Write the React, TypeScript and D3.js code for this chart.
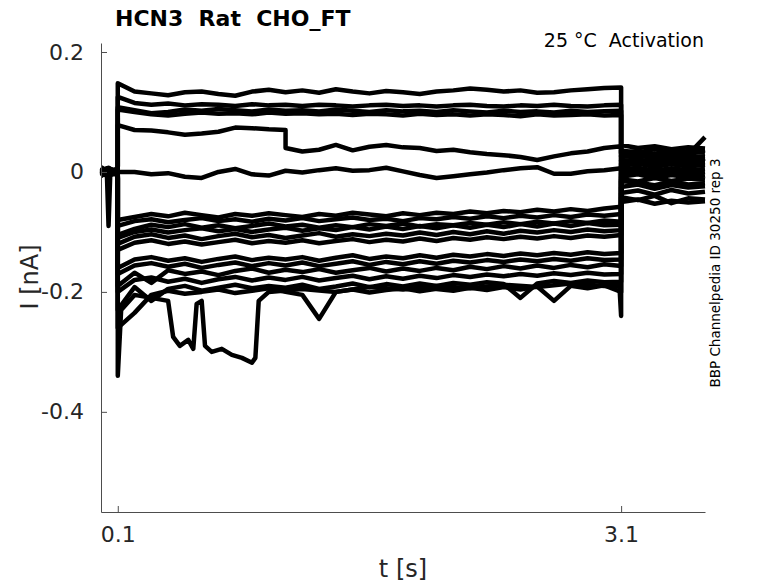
import React, { useRef, useEffect } from "react";
import * as d3 from "d3";

// time grids (s)
const PRE_T = [0, 0.035, 0.045, 0.055, 0.1];
const PULSE_T = [
  0.1, 0.2, 0.3, 0.4, 0.5, 0.6, 0.7, 0.8, 0.9, 1.0, 1.1, 1.2, 1.3, 1.4, 1.5, 1.6,
  1.7, 1.8, 1.9, 2.0, 2.1, 2.2, 2.3, 2.4, 2.5, 2.6, 2.7, 2.8, 2.9, 3.0, 3.1,
];
const POST_T = [3.1, 3.2, 3.3, 3.4, 3.5, 3.6];

const X_TICKS = [0.1, 3.1];
const Y_TICKS = [0.2, 0, -0.2, -0.4];

// current during the 3 s pulse (nA), one value per PULSE_T
const TOP = [0.148, 0.134, 0.131, 0.128, 0.133, 0.134, 0.13, 0.127, 0.134, 0.137, 0.133, 0.136, 0.132, 0.138, 0.134, 0.131, 0.135, 0.133, 0.13, 0.134, 0.136, 0.139, 0.137, 0.134, 0.136, 0.132, 0.133, 0.136, 0.138, 0.14, 0.141];
const UPPER_1 = [0.125, 0.115, 0.112, 0.114, 0.111, 0.113, 0.112, 0.11, 0.113, 0.111, 0.112, 0.11, 0.112, 0.111, 0.109, 0.111, 0.112, 0.11, 0.111, 0.109, 0.111, 0.112, 0.11, 0.109, 0.111, 0.11, 0.112, 0.11, 0.109, 0.111, 0.112];
const UPPER_2 = [0.108, 0.103, 0.098, 0.1, 0.104, 0.102, 0.105, 0.103, 0.101, 0.104, 0.102, 0.103, 0.101, 0.104, 0.102, 0.1, 0.103, 0.101, 0.102, 0.1, 0.103, 0.101, 0.099, 0.102, 0.1, 0.101, 0.099, 0.102, 0.1, 0.101, 0.102];
const UPPER_3 = [0.104, 0.1, 0.096, 0.094, 0.097, 0.099, 0.097, 0.098, 0.096, 0.099, 0.097, 0.098, 0.096, 0.097, 0.095, 0.097, 0.096, 0.094, 0.097, 0.095, 0.096, 0.094, 0.096, 0.095, 0.093, 0.096, 0.094, 0.095, 0.096, 0.094, 0.095];
const NEAR_ZERO = [0.0, 0.0, -0.004, -0.002, -0.008, -0.01, 0.0, 0.005, -0.004, -0.006, 0.002, -0.001, 0.003, 0.006, 0.002, 0.003, 0.007, 0.001, -0.005, -0.01, -0.007, -0.004, -0.001, 0.003, 0.006, 0.008, -0.003, -0.003, 0.001, 0.003, 0.006];
const K1 = [-0.08, -0.075, -0.07, -0.074, -0.068, -0.072, -0.076, -0.07, -0.073, -0.069, -0.072, -0.075, -0.07, -0.073, -0.068, -0.071, -0.074, -0.069, -0.072, -0.068, -0.07, -0.066, -0.069, -0.065, -0.067, -0.063, -0.066, -0.062, -0.065, -0.061, -0.058];
const K2 = [-0.09, -0.082, -0.079, -0.084, -0.08, -0.077, -0.082, -0.079, -0.083, -0.078, -0.081, -0.077, -0.082, -0.079, -0.076, -0.08, -0.078, -0.082, -0.077, -0.079, -0.075, -0.078, -0.074, -0.077, -0.073, -0.076, -0.072, -0.075, -0.071, -0.073, -0.07];
const K3 = [-0.105, -0.095, -0.088, -0.092, -0.087, -0.093, -0.089, -0.094, -0.09, -0.086, -0.091, -0.088, -0.093, -0.089, -0.092, -0.087, -0.09, -0.086, -0.091, -0.087, -0.089, -0.085, -0.088, -0.084, -0.087, -0.083, -0.086, -0.082, -0.085, -0.081, -0.083];
const K4 = [-0.12, -0.108, -0.104, -0.11, -0.106, -0.112, -0.107, -0.103, -0.109, -0.105, -0.11, -0.106, -0.102, -0.108, -0.104, -0.107, -0.103, -0.106, -0.101, -0.105, -0.1, -0.104, -0.099, -0.103, -0.098, -0.101, -0.097, -0.1, -0.096, -0.099, -0.097];
const K5 = [-0.13, -0.118, -0.114, -0.12, -0.116, -0.121, -0.117, -0.113, -0.119, -0.115, -0.118, -0.114, -0.119, -0.115, -0.112, -0.117, -0.113, -0.116, -0.111, -0.115, -0.11, -0.113, -0.109, -0.112, -0.108, -0.111, -0.107, -0.11, -0.106, -0.108, -0.105];
const K6 = [-0.16, -0.146, -0.142, -0.148, -0.144, -0.15, -0.145, -0.141, -0.147, -0.143, -0.146, -0.142, -0.148, -0.143, -0.139, -0.145, -0.141, -0.144, -0.139, -0.143, -0.138, -0.141, -0.137, -0.14, -0.136, -0.139, -0.135, -0.138, -0.134, -0.137, -0.135];
const K7 = [-0.17, -0.156, -0.152, -0.158, -0.153, -0.16, -0.155, -0.151, -0.157, -0.152, -0.156, -0.151, -0.157, -0.153, -0.149, -0.155, -0.15, -0.154, -0.149, -0.153, -0.148, -0.151, -0.147, -0.15, -0.146, -0.149, -0.145, -0.148, -0.144, -0.147, -0.146];
const K8 = [-0.19, -0.168, -0.185, -0.164, -0.17, -0.166, -0.172, -0.165, -0.161, -0.168, -0.163, -0.167, -0.162, -0.168, -0.164, -0.16, -0.166, -0.161, -0.165, -0.16, -0.164, -0.158, -0.162, -0.157, -0.161, -0.156, -0.16, -0.155, -0.159, -0.154, -0.157];
const K9 = [-0.2, -0.18, -0.176, -0.183, -0.178, -0.185, -0.179, -0.175, -0.181, -0.176, -0.18, -0.175, -0.181, -0.177, -0.173, -0.179, -0.174, -0.178, -0.173, -0.177, -0.172, -0.175, -0.171, -0.174, -0.17, -0.173, -0.169, -0.172, -0.168, -0.171, -0.17];
const K10 = [-0.23, -0.192, -0.215, -0.195, -0.19, -0.198, -0.193, -0.188, -0.194, -0.19, -0.193, -0.188, -0.195, -0.191, -0.186, -0.192, -0.187, -0.191, -0.186, -0.19, -0.185, -0.188, -0.184, -0.187, -0.21, -0.186, -0.182, -0.185, -0.181, -0.184, -0.183];
const K11 = [-0.26, -0.235, -0.205, -0.198, -0.203, -0.2, -0.196, -0.202, -0.198, -0.194, -0.2, -0.205, -0.245, -0.2, -0.196, -0.201, -0.197, -0.194, -0.199, -0.195, -0.198, -0.193, -0.197, -0.192, -0.196, -0.191, -0.215, -0.19, -0.194, -0.189, -0.2];
const K12 = [-0.11, -0.1, -0.096, -0.101, -0.097, -0.094, -0.099, -0.095, -0.1, -0.096, -0.093, -0.098, -0.094, -0.097, -0.092, -0.096, -0.091, -0.095, -0.09, -0.094, -0.089, -0.093, -0.088, -0.092, -0.087, -0.091, -0.086, -0.09, -0.085, -0.089, -0.088];

// traces with sharp events, as [t, I] pairs
const STEP_TRACE: [number, number][] = [
  [0.1, 0.078], [0.2, 0.07], [0.3, 0.069], [0.4, 0.066], [0.5, 0.062], [0.6, 0.064],
  [0.7, 0.067], [0.8, 0.074], [0.9, 0.073], [1.0, 0.071], [1.1, 0.07], [1.1, 0.04],
  [1.2, 0.034], [1.3, 0.037], [1.4, 0.045], [1.5, 0.036], [1.6, 0.042], [1.7, 0.045],
  [1.8, 0.041], [1.9, 0.04], [2.0, 0.035], [2.1, 0.037], [2.2, 0.033], [2.3, 0.03],
  [2.4, 0.028], [2.5, 0.025], [2.6, 0.02], [2.7, 0.026], [2.8, 0.031], [2.9, 0.034],
  [3.0, 0.04], [3.1, 0.043],
];
const DIP_TRACE: [number, number][] = [
  [0.1, -0.34], [0.12, -0.23], [0.2, -0.205], [0.3, -0.21], [0.4, -0.215], [0.43, -0.275],
  [0.47, -0.29], [0.52, -0.28], [0.55, -0.295], [0.57, -0.22], [0.6, -0.215], [0.62, -0.29],
  [0.66, -0.3], [0.72, -0.295], [0.78, -0.305], [0.84, -0.31], [0.9, -0.318], [0.92, -0.31],
  [0.94, -0.215], [1.0, -0.2], [1.2, -0.195], [1.4, -0.2], [1.6, -0.192], [1.8, -0.196],
  [2.0, -0.19], [2.2, -0.194], [2.4, -0.188], [2.6, -0.192], [2.8, -0.186], [3.0, -0.19],
  [3.09, -0.19], [3.1, -0.24],
];

// holding current before the pulse, one row per trace (order as in PULSES)
const PRE_VALUES = [
  [0.004, -0.002, 0.003, -0.004, 0.002],
  [-0.003, 0.004, -0.002, 0.003, -0.001],
  [0.006, 0.0, 0.005, -0.002, 0.004],
  [-0.005, 0.003, -0.004, 0.002, -0.003],
  [0.002, 0.006, 0.0, 0.005, 0.001],
  [-0.002, -0.006, 0.002, -0.005, -0.002],
  [0.008, 0.002, 0.007, 0.001, 0.006],
  [-0.006, -0.001, -0.007, 0.0, -0.005],
  [0.003, -0.004, 0.004, -0.003, 0.003],
  [0.0, 0.005, -0.001, 0.004, 0.0],
  [-0.004, 0.002, -0.005, 0.003, -0.004],
  [0.005, -0.003, 0.006, -0.002, 0.005],
  [-0.001, 0.004, -0.002, 0.005, -0.001],
  [0.002, -0.005, 0.003, -0.004, 0.002],
  [-0.007, 0.0, -0.006, 0.001, -0.006],
  [0.004, 0.001, 0.005, 0.0, 0.003],
  [0.001, -0.002, -0.09, -0.004, 0.0],
  [-0.003, 0.006, -0.002, 0.005, -0.003],
  [0.007, -0.001, 0.006, -0.003, 0.005],
];

// tail current after the pulse
const POST_VALUES = [
  [0.045, 0.04, 0.043, 0.038, 0.041, 0.039],
  [0.032, 0.035, 0.03, 0.034, 0.031, 0.036],
  [0.025, 0.028, 0.022, 0.027, 0.024, 0.026],
  [0.018, 0.021, 0.016, 0.02, 0.017, 0.022],
  [0.03, 0.026, 0.031, 0.025, 0.029, 0.058],
  [0.01, 0.014, 0.008, 0.013, 0.009, 0.012],
  [0.004, 0.007, 0.002, 0.006, 0.003, 0.005],
  [-0.002, 0.002, -0.004, 0.001, -0.003, 0.0],
  [-0.008, -0.004, -0.01, -0.005, -0.009, -0.006],
  [0.028, 0.024, 0.029, 0.023, 0.027, 0.025],
  [0.014, 0.018, 0.012, 0.017, 0.013, 0.016],
  [-0.012, -0.016, -0.01, -0.015, -0.011, -0.013],
  [-0.025, -0.021, -0.028, -0.022, -0.026, -0.024],
  [-0.035, -0.031, -0.038, -0.03, -0.036, -0.033],
  [-0.042, -0.047, -0.04, -0.052, -0.044, -0.046],
  [-0.05, -0.046, -0.053, -0.048, -0.051, -0.049],
  [0.02, 0.016, 0.022, 0.015, 0.021, 0.018],
  [0.036, 0.032, 0.038, 0.031, 0.035, 0.033],
  [-0.015, -0.018, -0.022, -0.016, -0.021, -0.019],
];

const onGrid = (vals: number[]): [number, number][] =>
  vals.map((v, i) => [PULSE_T[i], v]);

const PULSES: [number, number][][] = [
  onGrid(TOP), onGrid(UPPER_1), onGrid(UPPER_2), onGrid(UPPER_3), STEP_TRACE,
  onGrid(NEAR_ZERO), onGrid(K1), onGrid(K2), onGrid(K3), onGrid(K4), onGrid(K5),
  onGrid(K6), onGrid(K7), onGrid(K8), onGrid(K9), onGrid(K10), onGrid(K11),
  onGrid(K12), DIP_TRACE,
];

const FONT = "'DejaVu Sans', sans-serif";
const TEXT = "#262626";

export default function App() {
  const svgRef = useRef<SVGSVGElement>(null);

  useEffect(() => {
    if (!svgRef.current) return;
    const svg = d3.select(svgRef.current);
    svg.selectAll("*").remove();

    const x = d3.scaleLinear().domain([0, 3.6]).range([101, 705]);
    const y = d3.scaleLinear().domain([-0.567, 0.215]).range([512, 43]);

    const line = d3
      .line<[number, number]>()
      .x((d) => x(d[0]))
      .y((d) => y(d[1]));

    // traces (the noisy recordings read as thick bands)
    const traces = svg.append("g");
    PULSES.forEach((pulse, k) => {
      const pts: [number, number][] = [
        ...PRE_T.map((t, i) => [t, PRE_VALUES[k][i]] as [number, number]),
        ...pulse,
        ...POST_T.map((t, i) => [t, POST_VALUES[k][i]] as [number, number]),
      ];
      traces
        .append("path")
        .attr("d", line(pts))
        .attr("fill", "none")
        .attr("stroke", "#000")
        .attr("stroke-width", 4.5)
        .attr("stroke-linejoin", "round");
    });

    // axes
    const xAxis = svg
      .append("g")
      .attr("transform", "translate(0,512)")
      .call(
        d3.axisBottom(x).tickValues(X_TICKS).tickSize(-6).tickSizeOuter(0)
          .tickPadding(14).tickFormat((d) => String(d))
      );
    const yAxis = svg
      .append("g")
      .attr("transform", "translate(101,0)")
      .call(
        d3.axisLeft(y).tickValues(Y_TICKS).tickSize(-6).tickSizeOuter(0)
          .tickPadding(17).tickFormat((d) => String(d))
      );
    [xAxis, yAxis].forEach((ax) => {
      ax.selectAll("path, line").attr("stroke", "#4d4d4d");
      ax.selectAll("text")
        .attr("fill", TEXT)
        .style("font-family", FONT)
        .style("font-size", "22px");
    });

    // labels
    svg.append("text")
      .attr("x", 403).attr("y", 577)
      .attr("text-anchor", "middle")
      .style("font-family", FONT).style("font-size", "24px")
      .attr("fill", TEXT)
      .text("t [s]");

    svg.append("text")
      .attr("transform", "translate(38,277) rotate(-90)")
      .attr("text-anchor", "middle")
      .style("font-family", FONT).style("font-size", "24px")
      .attr("fill", TEXT)
      .text("I [nA]");

    svg.append("text")
      .attr("x", 115).attr("y", 26)
      .style("font-family", FONT).style("font-size", "22px")
      .style("font-weight", "bold").style("white-space", "pre")
      .attr("fill", "#000")
      .text("HCN3  Rat  CHO_FT");

    svg.append("text")
      .attr("x", 704).attr("y", 47)
      .attr("text-anchor", "end")
      .style("font-family", FONT).style("font-size", "19px")
      .style("white-space", "pre")
      .attr("fill", "#000")
      .text("25 °C  Activation");

    svg.append("text")
      .attr("transform", "translate(720,273) rotate(-90)")
      .attr("text-anchor", "middle")
      .style("font-family", FONT).style("font-size", "13.5px")
      .attr("fill", "#000")
      .text("BBP Channelpedia ID 30250 rep 3");
  }, []);

  return (
    <svg
      ref={svgRef}
      width={778}
      height={583}
      style={{ position: "absolute", left: 0, top: 0, background: "#fff" }}
    />
  );
}
